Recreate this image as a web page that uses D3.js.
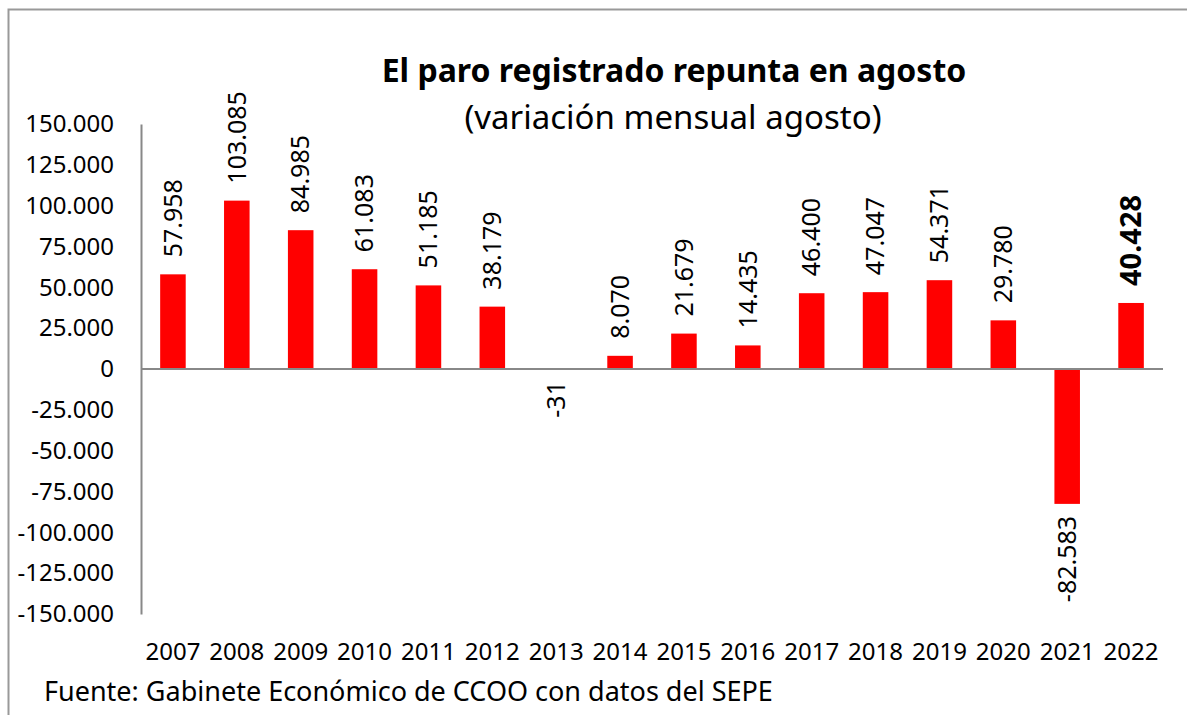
<!DOCTYPE html>
<html>
<head>
<meta charset="utf-8">
<script src="https://cdn.jsdelivr.net/npm/d3@7"></script>
<style>
  body { margin: 0; background: #fff; }
  text { font-family: "Noto Sans", sans-serif; fill: #000; }
</style>
</head>
<body>
<div id="chart"></div>
<script>
// variación mensual del paro registrado en agosto
var years = ["2007","2008","2009","2010","2011","2012","2013","2014","2015","2016","2017","2018","2019","2020","2021","2022"];
var values = [57958, 103085, 84985, 61083, 51185, 38179, -31, 8070, 21679, 14435, 46400, 47047, 54371, 29780, -82583, 40428];
var yTicks = [150000, 125000, 100000, 75000, 50000, 25000, 0, -25000, -50000, -75000, -100000, -125000, -150000];

var width = 1187, height = 715;
var margin = { top: 124, left: 141, right: 24, bottom: 101 };

var fmt = d3.formatLocale({ decimal: ",", thousands: ".", grouping: [3], currency: ["", "€"], minus: "-" }).format(",.0f");

var svg = d3.select("#chart").append("svg")
    .attr("width", width)
    .attr("height", height);

svg.append("rect")
    .attr("x", 8.5).attr("y", 9.5)
    .attr("width", 1300).attr("height", 900)
    .attr("fill", "none")
    .attr("stroke", "#999")
    .attr("stroke-width", 2);

var x = d3.scaleBand()
    .domain(years)
    .range([margin.left, width - margin.right])
    .paddingInner(0.6)
    .paddingOuter(0.3);

var y = d3.scaleLinear()
    .domain([-150000, 150000])
    .range([height - margin.bottom, margin.top]);

// bars
svg.selectAll("rect.bar")
    .data(values)
    .enter()
    .append("rect")
    .attr("class", "bar")
    .attr("x", (d, i) => x(years[i]))
    .attr("width", x.bandwidth())
    .attr("y", d => y(Math.max(0, d)))
    .attr("height", d => Math.abs(y(d) - y(0)))
    .attr("fill", "#ff0000");

// y axis
var yAxis = svg.append("g")
    .attr("transform", "translate(" + margin.left + ",0)")
    .call(d3.axisLeft(y).tickValues(yTicks).tickSize(0).tickPadding(27).tickFormat(d => d === 0 ? "0" : fmt(d)));
yAxis.select(".domain").attr("stroke", "#888").attr("stroke-width", 2);
yAxis.selectAll("text").style("font-size", "24px").style("font-family", "Noto Sans");

// zero line
svg.append("line")
    .attr("x1", margin.left).attr("x2", width - margin.right)
    .attr("y1", y(0)).attr("y2", y(0))
    .attr("stroke", "#888")
    .attr("stroke-width", 2);

// year labels
svg.selectAll("text.year")
    .data(years)
    .enter()
    .append("text")
    .attr("class", "year")
    .attr("x", d => x(d) + x.bandwidth() / 2)
    .attr("y", 660)
    .attr("text-anchor", "middle")
    .style("font-size", "24px")
    .text(d => d);

// value labels
svg.selectAll("text.val")
    .data(values)
    .enter()
    .append("text")
    .attr("class", "val")
    .attr("transform", (d, i) => {
        var cx = x(years[i]) + x.bandwidth() / 2;
        var yy = d >= 0 ? y(d) - 17 : y(d) + 12;
        return "translate(" + cx + "," + yy + ") rotate(-90)";
    })
    .attr("dy", "0.35em")
    .attr("text-anchor", d => d >= 0 ? "start" : "end")
    .style("font-size", (d, i) => i === values.length - 1 ? "29px" : "25px")
    .style("font-weight", (d, i) => i === values.length - 1 ? "bold" : "normal")
    .text(d => fmt(d));

// titles
svg.append("text")
    .attr("x", 674).attr("y", 82)
    .attr("text-anchor", "middle")
    .style("font-size", "32px")
    .style("font-weight", "bold")
    .text("El paro registrado repunta en agosto");

svg.append("text")
    .attr("x", 673).attr("y", 129)
    .attr("text-anchor", "middle")
    .style("font-size", "33px")
    .text("(variación mensual agosto)");

svg.append("text")
    .attr("x", 44).attr("y", 701)
    .style("font-size", "27px")
    .text("Fuente: Gabinete Económico de CCOO con datos del SEPE");
</script>
</body>
</html>
